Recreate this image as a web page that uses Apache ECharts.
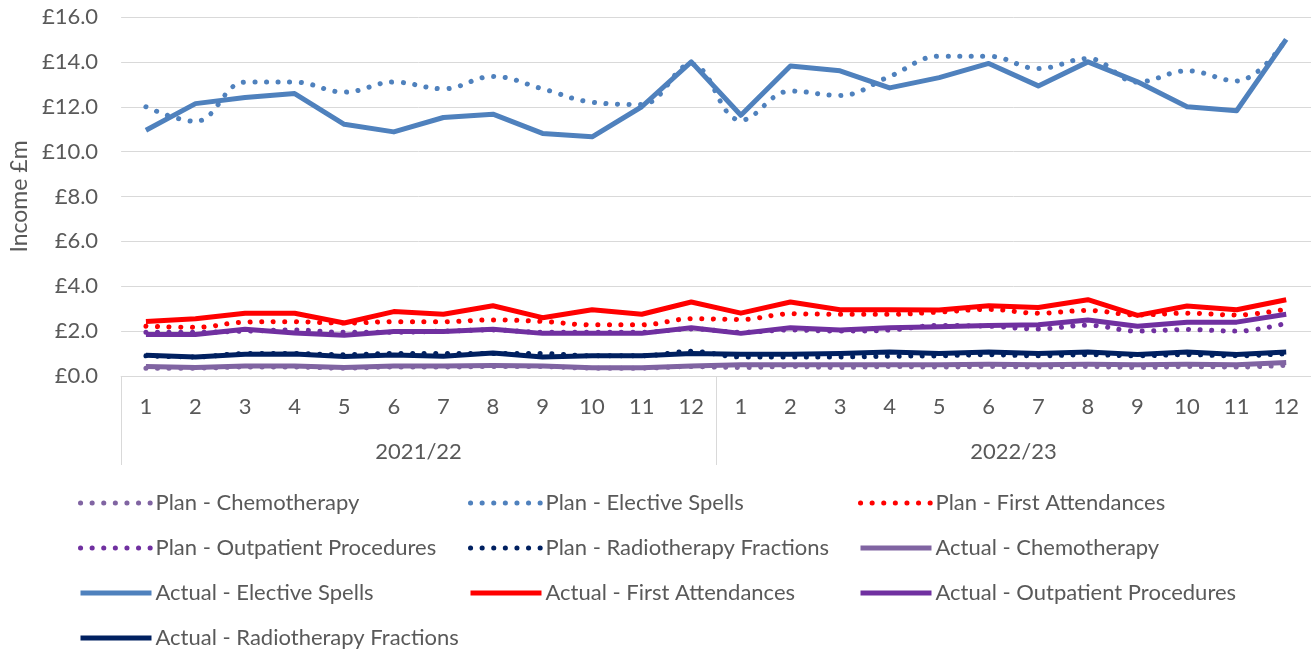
<!DOCTYPE html>
<html>
<head>
<meta charset="utf-8">
<title>Income by point of delivery</title>
<script src="https://cdn.jsdelivr.net/npm/echarts@6/dist/echarts.min.js"></script>
<style>
  html, body { margin: 0; padding: 0; background: #fff; }
  #chart { width: 1311px; height: 651px; }
</style>
</head>
<body>
<div id="chart"></div>
<script>
// Months within each financial year, and the years they group under
const months = ['1','2','3','4','5','6','7','8','9','10','11','12','1','2','3','4','5','6','7','8','9','10','11','12'];
const years = ['2021/22', '2022/23'];

// Income, £m
const planChemotherapy = [0.35,0.35,0.40,0.40,0.35,0.40,0.40,0.42,0.42,0.35,0.35,0.42, 0.38,0.42,0.38,0.42,0.40,0.42,0.40,0.42,0.38,0.42,0.40,0.48];
const planElective     = [12.0,11.35,13.1,13.1,12.65,13.1,12.8,13.35,12.8,12.2,12.1,13.9, 11.4,12.7,12.5,13.35,14.25,14.25,13.7,14.15,13.1,13.6,13.15,15.0];
const planFirst        = [2.22,2.17,2.40,2.42,2.36,2.42,2.42,2.50,2.43,2.28,2.28,2.55, 2.52,2.77,2.75,2.75,2.85,2.97,2.80,2.92,2.72,2.80,2.72,2.98];
const planOutpatient   = [1.95,1.95,2.00,2.05,1.95,1.95,2.00,2.05,1.95,1.95,1.95,2.10, 1.95,2.05,2.00,2.05,2.25,2.22,2.10,2.26,2.00,2.07,2.00,2.35];
const planRadiotherapy = [0.90,0.85,1.00,1.00,0.95,1.00,1.00,1.00,1.00,0.90,0.90,1.10, 0.85,0.85,0.85,0.88,0.90,0.95,0.90,0.95,0.90,0.95,0.90,1.00];

const actualChemotherapy = [0.42,0.38,0.45,0.45,0.38,0.45,0.45,0.47,0.45,0.37,0.37,0.45, 0.50,0.50,0.50,0.50,0.50,0.52,0.50,0.52,0.50,0.52,0.50,0.60];
const actualElective     = [10.95,12.14,12.41,12.59,11.22,10.88,11.52,11.67,10.81,10.66,12.0,14.0, 11.62,13.82,13.6,12.84,13.3,13.93,12.93,14.0,13.11,12.0,11.82,15.0];
const actualFirst        = [2.43,2.55,2.80,2.80,2.36,2.87,2.75,3.13,2.60,2.95,2.75,3.30, 2.80,3.30,2.95,2.95,2.94,3.13,3.05,3.40,2.70,3.12,2.95,3.40];
const actualOutpatient   = [1.85,1.85,2.08,1.92,1.82,1.98,1.98,2.08,1.90,1.90,1.90,2.15, 1.90,2.15,2.05,2.15,2.20,2.25,2.28,2.50,2.22,2.40,2.40,2.75];
const actualRadiotherapy = [0.92,0.85,0.97,0.98,0.87,0.94,0.88,1.02,0.85,0.90,0.90,1.00, 0.97,0.97,1.00,1.07,1.00,1.07,1.00,1.07,0.96,1.07,0.96,1.07];

const yTicks = { min: 0, max: 16, interval: 2 };

const colors = {
  chemo: '#8064A2',
  elective: '#4F81BD',
  first: '#FF0000',
  outpatient: '#7030A0',
  radio: '#002060'
};

const textColor = '#595959';
const font = 'Lato, "Open Sans", sans-serif';
const fontSize = 22;

function planLine(name, data, color) {
  return {
    name, type: 'line', data, smooth: 0.4, symbol: 'none',
    lineStyle: { color, width: 5, type: [0.1, 11.5], cap: 'round' },
    itemStyle: { color }
  };
}
function actualLine(name, data, color) {
  return {
    name, type: 'line', data, symbol: 'none',
    lineStyle: { color, width: 5, cap: 'butt', join: 'round' },
    itemStyle: { color }
  };
}

const series = [
  planLine('Plan - Chemotherapy', planChemotherapy, colors.chemo),
  planLine('Plan - Elective Spells', planElective, colors.elective),
  planLine('Plan - First Attendances', planFirst, colors.first),
  planLine('Plan - Outpatient Procedures', planOutpatient, colors.outpatient),
  planLine('Plan - Radiotherapy Fractions', planRadiotherapy, colors.radio),
  actualLine('Actual - Chemotherapy', actualChemotherapy, colors.chemo),
  actualLine('Actual - Elective Spells', actualElective, colors.elective),
  actualLine('Actual - First Attendances', actualFirst, colors.first),
  actualLine('Actual - Outpatient Procedures', actualOutpatient, colors.outpatient),
  actualLine('Actual - Radiotherapy Fractions', actualRadiotherapy, colors.radio)
];

// Legend laid out in three columns, filled row by row
const names = series.map(s => s.name);
const columns = [[], [], []];
names.forEach((n, i) => columns[i % 3].push(n));
const legendLeft = [78, 468, 858];
const legend = columns.map((col, i) => ({
  data: col,
  orient: 'vertical',
  left: legendLeft[i],
  top: 492,
  padding: 0,
  itemGap: 23,
  itemWidth: 71,
  itemHeight: 22,
  selectedMode: false,
  itemStyle: { opacity: 0 },
  lineStyle: { width: 5 },
  textStyle: { color: textColor, fontSize: fontSize, fontFamily: font, padding: [0, 0, 0, -1] }
}));

const chart = echarts.init(document.getElementById('chart'), null, { renderer: 'canvas' });
chart.setOption({
  backgroundColor: '#ffffff',
  animation: false,
  grid: { left: 120, right: -2, top: 17, bottom: 275, containLabel: false },
  legend,
  xAxis: [
    {
      type: 'category', data: months, boundaryGap: true,
      axisLine: { show: true, lineStyle: { color: '#d9d9d9', width: 1 } },
      axisTick: { show: false },
      axisLabel: { color: textColor, fontSize: fontSize, fontFamily: font, margin: 20, interval: 0 }
    },
    {
      type: 'category', data: years, boundaryGap: true, position: 'bottom',
      axisLine: { show: false },
      axisTick: { show: true, length: 89, interval: 0, lineStyle: { color: '#d9d9d9', width: 1 } },
      axisLabel: { color: textColor, fontSize: fontSize, fontFamily: font, margin: 65 }
    }
  ],
  yAxis: {
    type: 'value', min: yTicks.min, max: yTicks.max, interval: yTicks.interval,
    name: 'Income £m', nameLocation: 'middle', nameGap: 85, nameRotate: 90,
    nameTextStyle: { color: textColor, fontSize: 23, fontFamily: font },
    axisLine: { show: false }, axisTick: { show: false },
    axisLabel: { color: textColor, fontSize: fontSize, fontFamily: font, margin: 23,
      formatter: v => '£' + v.toFixed(1) },
    splitLine: { lineStyle: { color: '#d9d9d9', width: 1 } }
  },
  series
});
</script>
</body>
</html>
